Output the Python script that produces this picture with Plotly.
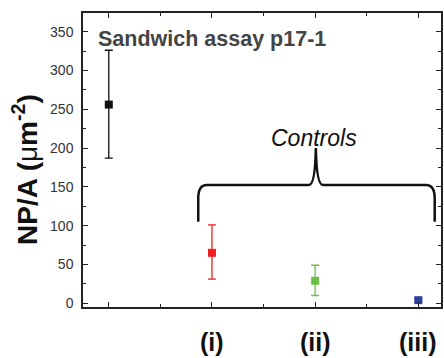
import plotly.graph_objects as go

# ---- data ----
positions = [1, 2, 3, 4]
values = [256, 65, 29, 4]
err_plus = [70, 36, 20, 2]
err_minus = [69, 34, 19, 2]
colors = ["#111111", "#f01e1e", "#6cbf45", "#2b3f9e"]
group_labels = ["", "(i)", "(ii)", "(iii)"]
y_ticks = [0, 50, 100, 150, 200, 250, 300, 350]

FONT = "Liberation Sans, Arial, sans-serif"

fig = go.Figure()
for x, v, ep, em, c in zip(positions, values, err_plus, err_minus, colors):
    fig.add_trace(go.Scatter(
        x=[x], y=[v], mode="markers",
        marker=dict(symbol="square", size=8, color=c),
        error_y=dict(type="data", symmetric=False, array=[ep], arrayminus=[em],
                     color=c, thickness=1.3, width=4),
        showlegend=False, hoverinfo="skip"))

# dummy trace for mirrored axes
fig.add_trace(go.Scatter(x=[None], y=[None], xaxis="x2", yaxis="y2", mode="markers",
                         showlegend=False, hoverinfo="skip"))

xr = [0.75, 4.22]
yr = [-4.8, 374]
axcol = "#222222"

fig.update_layout(
    width=444, height=358,
    margin=dict(l=83, r=3, t=13, b=51),
    paper_bgcolor="white", plot_bgcolor="white",
    font=dict(family=FONT, color="#333333"),
    xaxis=dict(range=xr, tickvals=positions, showticklabels=False,
               ticks="inside", ticklen=5, tickwidth=1.3, tickcolor=axcol,
               minor=dict(dtick=0.5, tick0=0.5, ticks="inside", ticklen=3, tickcolor=axcol, tickwidth=1.2),
               showline=True, linecolor=axcol, linewidth=1.5, showgrid=False, zeroline=False),
    yaxis=dict(range=yr, tickvals=y_ticks,
               ticks="inside", ticklen=5, tickwidth=1.3, tickcolor=axcol, ticklabelstandoff=5,
               minor=dict(dtick=25, tick0=0, ticks="inside", ticklen=3, tickcolor=axcol, tickwidth=1.2),
               tickfont=dict(size=14, color="#333333", family=FONT),
               showline=True, linecolor=axcol, linewidth=1.5, showgrid=False, zeroline=False),
    xaxis2=dict(range=xr, overlaying="x", side="top", tickvals=positions, showticklabels=False,
                ticks="inside", ticklen=5, tickwidth=1.3, tickcolor=axcol,
                minor=dict(dtick=0.5, tick0=0.5, ticks="inside", ticklen=3, tickcolor=axcol, tickwidth=1.2),
                showline=True, linecolor=axcol, linewidth=1.5, showgrid=False, zeroline=False),
    yaxis2=dict(range=yr, overlaying="y", side="right", tickvals=y_ticks, showticklabels=False,
                ticks="inside", ticklen=5, tickwidth=1.3, tickcolor=axcol,
                minor=dict(dtick=25, tick0=0, ticks="inside", ticklen=3, tickcolor=axcol, tickwidth=1.2),
                showline=True, linecolor=axcol, linewidth=1.5, showgrid=False, zeroline=False),
)

annotations = []
# y-axis title
annotations.append(dict(xref="paper", yref="paper", x=-0.162, y=0.466,
                        text="<b>NP/A (</b>μ<b>m<sup>-2</sup>)</b>", textangle=-90,
                        showarrow=False, xanchor="center", yanchor="middle",
                        font=dict(size=28, color="#111111", family=FONT)))
# title inside plot
annotations.append(dict(xref="paper", yref="paper", x=0.036, y=0.912,
                        text="<b>Sandwich assay p17-1</b>", showarrow=False,
                        xanchor="left", yanchor="middle",
                        font=dict(size=21.5, color="#444444", family=FONT)))
# Controls
annotations.append(dict(xref="x", yref="y", x=2.99, y=213, text="<i>Controls</i>",
                        showarrow=False, xanchor="center", yanchor="middle",
                        font=dict(size=23, color="#111111", family=FONT)))
# group labels
for x, lab in zip(positions, group_labels):
    if lab:
        annotations.append(dict(xref="x", yref="paper", x=x, y=-0.118, text="<b>" + lab + "</b>",
                                showarrow=False, xanchor="center", yanchor="middle",
                                font=dict(size=25, color="#111111", family=FONT)))
fig.update_layout(annotations=annotations)

# curly brace over the controls
brace = ("M 1.867,105 L 1.867,135 Q 1.867,152.4 1.95,152.4 L 2.94,152.4 "
         "Q 3.0,152.4 3.007,200 Q 3.014,152.4 3.075,152.4 L 4.075,152.4 "
         "Q 4.159,152.4 4.159,135 L 4.159,105")
fig.add_shape(type="path", path=brace, xref="x", yref="y",
              line=dict(color="#111111", width=2.5))

fig.write_html("out.html", config={"displayModeBar": False},
               post_script="document.body.style.margin='0';document.body.style.padding='0';"
                           "document.body.style.overflow='hidden';")
